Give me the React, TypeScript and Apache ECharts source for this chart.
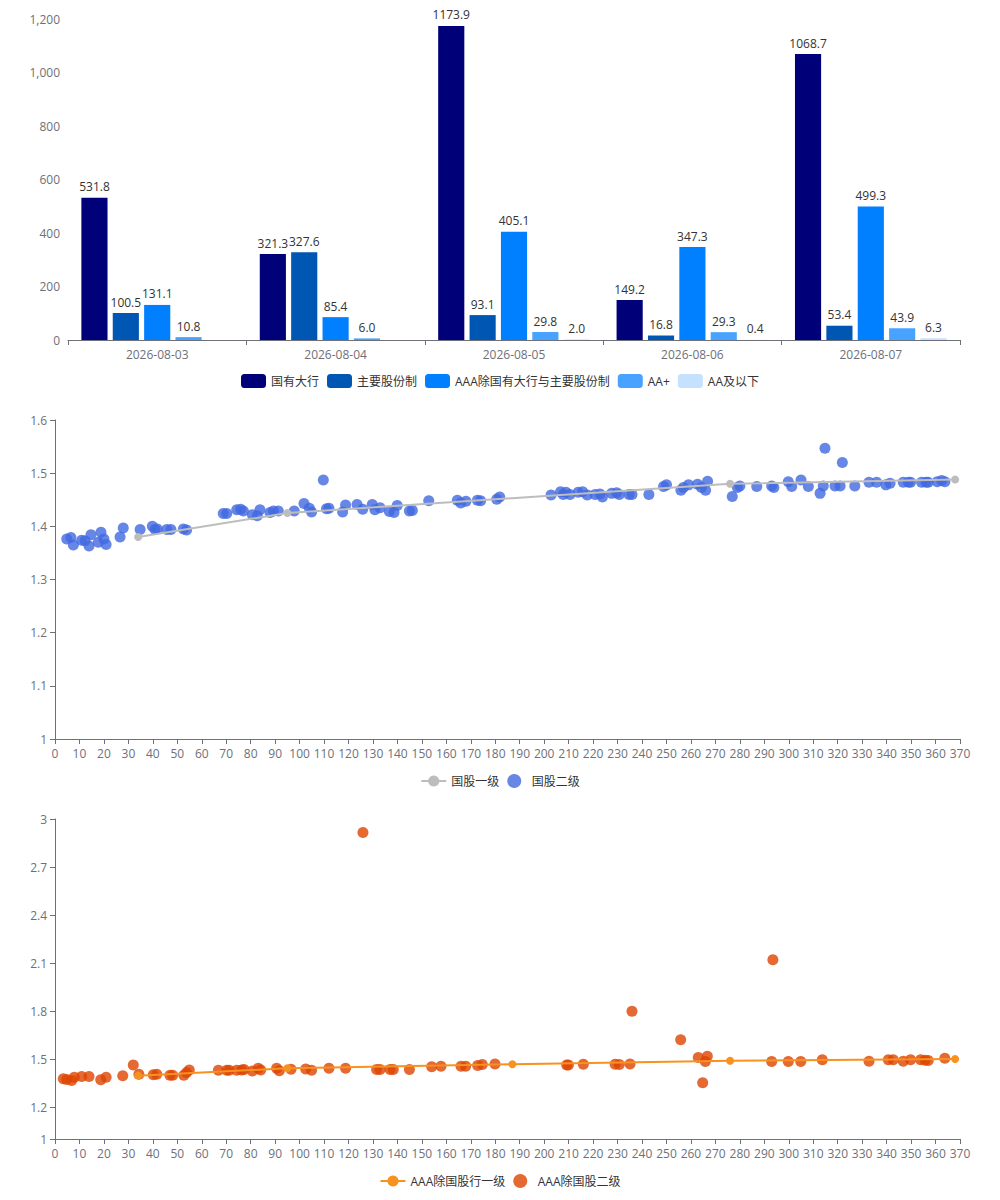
import React, { useEffect, useRef } from "react";
import * as echarts from "echarts";

const dates = ["2026-08-03", "2026-08-04", "2026-08-05", "2026-08-06", "2026-08-07"];
const barNames = ["国有大行", "主要股份制", "AAA除国有大行与主要股份制", "AA+", "AA及以下"];
const bigBanks = [531.8, 321.3, 1173.9, 149.2, 1068.7];
const jointStock = [100.5, 327.6, 93.1, 16.8, 53.4];
const aaaOther = [131.1, 85.4, 405.1, 347.3, 499.3];
const aaPlus = [10.8, 6.0, 29.8, 29.3, 43.9];
const aaBelow = [null, null, 2.0, 0.4, 6.3];
const barColors = ["#000078", "#0056b3", "#0080ff", "#47a3ff", "#c4e1ff"];

const chart3YTicks = [1, 1.2, 1.5, 1.8, 2.1, 2.4, 2.7, 3];

const guoguLine = [[34, 1.38], [95, 1.425], [276, 1.48], [368, 1.488]];
const guoguScatter = [
  [4.8, 1.376], [6.5, 1.379], [7.5, 1.365], [10.9, 1.374], [12.3, 1.373], [13.9, 1.363], [14.7, 1.384],
  [17.7, 1.37], [18.8, 1.389], [20, 1.376], [20.9, 1.366], [26.6, 1.38], [27.9, 1.397], [34.8, 1.394],
  [39.8, 1.4], [40.9, 1.394], [41.8, 1.395], [45.7, 1.394], [47.4, 1.394], [52.5, 1.395], [53.8, 1.393],
  [68.8, 1.424], [70.2, 1.424], [74.3, 1.431], [75.9, 1.432], [77, 1.429], [80.7, 1.422], [82.7, 1.42],
  [83.8, 1.431], [87.9, 1.426], [89.3, 1.429], [91.3, 1.429], [97.8, 1.429], [101.8, 1.443], [104, 1.434],
  [104.9, 1.427], [109.7, 1.487], [111, 1.433], [112, 1.434], [117.6, 1.427], [118.8, 1.44], [123.5, 1.441],
  [125.8, 1.432], [129.7, 1.441], [130.8, 1.431], [132.9, 1.435], [136.7, 1.428], [138.6, 1.426],
  [139.9, 1.439], [144.9, 1.429], [146.1, 1.43], [152.8, 1.448], [164.5, 1.449], [165.9, 1.444], [168, 1.447],
  [172.7, 1.449], [174, 1.448], [180.6, 1.451], [181.8, 1.455], [202.8, 1.459], [206.7, 1.465], [207.8, 1.46],
  [208.9, 1.464], [210.5, 1.46], [213.9, 1.464], [215.7, 1.465], [217.6, 1.459], [220.8, 1.46], [222.8, 1.461],
  [223.8, 1.455], [227.6, 1.462], [229.6, 1.463], [230.7, 1.46], [234.7, 1.46], [235.9, 1.46], [242.8, 1.46],
  [248.8, 1.475], [250, 1.478], [255.9, 1.468], [256.9, 1.473], [259, 1.478], [262.7, 1.479], [264.3, 1.473],
  [266, 1.468], [266.8, 1.485], [276.9, 1.456], [279, 1.473], [280, 1.476], [286.9, 1.475], [293, 1.476],
  [293.9, 1.473], [299.8, 1.484], [301.2, 1.475], [305, 1.487], [308, 1.475], [312.8, 1.462], [314.1, 1.476],
  [314.8, 1.547], [318.9, 1.476], [321, 1.476], [321.9, 1.52], [327, 1.476], [332.8, 1.483], [335.9, 1.483],
  [339.7, 1.478], [341.4, 1.481], [346.8, 1.483], [348.9, 1.483], [349.8, 1.483], [354.3, 1.483],
  [356.1, 1.483], [357, 1.483], [360.7, 1.484], [362.5, 1.486], [363.8, 1.484],
];

const aaaLine = [[34, 1.396], [95, 1.442], [187, 1.467], [276, 1.489], [368, 1.5]];
const aaaScatter = [
  [3.4, 1.376], [4.8, 1.372], [6.8, 1.365], [7.9, 1.386], [10.9, 1.39], [13.9, 1.39], [18.7, 1.371],
  [20.9, 1.386], [27.7, 1.396], [32, 1.463], [34.3, 1.404], [40.2, 1.402], [41.6, 1.404], [47, 1.398],
  [48.1, 1.398], [52.7, 1.398], [53.8, 1.415], [54.9, 1.431], [66.8, 1.429], [70.2, 1.429], [71.2, 1.429],
  [74.3, 1.429], [76.3, 1.431], [77.3, 1.435], [80.7, 1.425], [83.1, 1.442], [84.1, 1.431], [90.6, 1.442],
  [91.7, 1.427], [96.5, 1.436], [102.5, 1.438], [104.9, 1.429], [112, 1.442], [118.8, 1.442], [125.9, 2.916],
  [131.5, 1.435], [132.9, 1.435], [137, 1.435], [138.3, 1.435], [144.9, 1.435], [154, 1.452], [157.8, 1.455],
  [166, 1.455], [167.9, 1.455], [172.8, 1.459], [174.7, 1.465], [179.9, 1.469], [209.2, 1.463],
  [209.9, 1.463], [216, 1.467], [229, 1.467], [230.7, 1.466], [235.1, 1.469], [235.9, 1.798], [255.8, 1.621],
  [263, 1.51], [264.8, 1.352], [265.9, 1.484], [266.7, 1.517], [293, 1.484], [293.5, 2.121], [299.8, 1.484],
  [304.9, 1.484], [313.7, 1.496], [332.8, 1.486], [340.7, 1.496], [342.7, 1.496], [346.8, 1.486],
  [349.8, 1.496], [353.9, 1.496], [355.7, 1.492], [357, 1.49], [363.8, 1.504],
];

const FONT = "'Microsoft YaHei', 'Open Sans', 'Noto Sans CJK SC', sans-serif";
const axisColor = "#6E7079";

function valueXAxis(gridIndex: number) {
  return {
    type: "value",
    gridIndex,
    min: 0,
    max: 370,
    interval: 10,
    axisLine: { show: true, lineStyle: { color: axisColor } },
    axisTick: { show: true },
    axisLabel: { color: axisColor, fontSize: 12, fontFamily: FONT },
    splitLine: { show: false },
  };
}

export default function App() {
  const ref = useRef<HTMLDivElement>(null);
  useEffect(() => {
    if (!ref.current) return;
    const chart = echarts.init(ref.current, null, { renderer: "svg" });
    const barSeriesData = [bigBanks, jointStock, aaaOther, aaPlus, aaBelow];
    const barSeries = barNames.map((name, i) => ({
      name,
      type: "bar",
      xAxisIndex: 0,
      yAxisIndex: 0,
      data: barSeriesData[i],
      barGap: "20%",
      barCategoryGap: "15%",
      itemStyle: { color: barColors[i] },
      label: {
        show: true,
        position: "top",
        color: "#333",
        fontSize: 12,
        fontFamily: FONT,
        formatter: (p: any) => (p.value == null ? "" : Number(p.value).toFixed(1)),
      },
    }));
    const legendText = { color: "#333", fontFamily: FONT, fontSize: 12 };
    chart.setOption({
      animation: false,
      textStyle: { fontFamily: FONT },
      grid: [
        { left: 68, right: 40, top: 19, height: 321 },
        { left: 55, right: 40, top: 420, height: 319 },
        { left: 55, right: 40, top: 819, height: 320 },
      ],
      legend: [
        { data: barNames, top: 369, left: "center", textStyle: legendText },
        { data: ["国股一级", "国股二级"], top: 769, left: "center", textStyle: legendText },
        { data: ["AAA除国股行一级", "AAA除国股二级"], top: 1169, left: "center", textStyle: legendText },
      ],
      xAxis: [
        {
          type: "category",
          gridIndex: 0,
          data: dates,
          axisLine: { show: true, lineStyle: { color: axisColor } },
          axisTick: { show: true },
          axisLabel: { color: axisColor, fontSize: 12, fontFamily: FONT },
        },
        valueXAxis(1),
        valueXAxis(2),
      ],
      yAxis: [
        {
          type: "value",
          gridIndex: 0,
          min: 0,
          max: 1200,
          interval: 200,
          axisLine: { show: false },
          axisLabel: { color: axisColor, fontSize: 12, fontFamily: FONT },
          splitLine: { show: false },
        },
        {
          type: "value",
          gridIndex: 1,
          min: 1,
          max: 1.6,
          interval: 0.1,
          axisLine: { show: true, lineStyle: { color: axisColor } },
          axisTick: { show: true },
          axisLabel: { color: axisColor, fontSize: 12, fontFamily: FONT },
          splitLine: { show: false },
        },
        {
          type: "value",
          gridIndex: 2,
          min: 1,
          max: 3,
          axisLine: { show: true, lineStyle: { color: axisColor } },
          axisTick: { show: true, customValues: chart3YTicks },
          axisLabel: { color: axisColor, fontSize: 12, fontFamily: FONT, customValues: chart3YTicks },
          splitLine: { show: false },
        },
      ],
      series: [
        ...barSeries,
        {
          name: "国股二级",
          type: "scatter",
          xAxisIndex: 1,
          yAxisIndex: 1,
          data: guoguScatter,
          symbolSize: 11,
          itemStyle: { color: "#4169E1", opacity: 0.8 },
        },
        {
          name: "国股一级",
          type: "line",
          xAxisIndex: 1,
          yAxisIndex: 1,
          data: guoguLine,
          symbol: "circle",
          symbolSize: 8,
          showSymbol: true,
          z: 3,
          itemStyle: { color: "#bdbdbd" },
          lineStyle: { color: "#bdbdbd", width: 2 },
        },
        {
          name: "AAA除国股二级",
          type: "scatter",
          xAxisIndex: 2,
          yAxisIndex: 2,
          data: aaaScatter,
          symbolSize: 11,
          itemStyle: { color: "#dd4400", opacity: 0.8 },
        },
        {
          name: "AAA除国股行一级",
          type: "line",
          xAxisIndex: 2,
          yAxisIndex: 2,
          data: aaaLine,
          symbol: "circle",
          symbolSize: 8,
          showSymbol: true,
          z: 3,
          itemStyle: { color: "#f7921e" },
          lineStyle: { color: "#f7921e", width: 2 },
        },
      ],
    });
    return () => chart.dispose();
  }, []);
  return (
    <div
      ref={ref}
      style={{ position: "absolute", left: 0, top: 0, width: 1000, height: 1200 }}
    />
  );
}
